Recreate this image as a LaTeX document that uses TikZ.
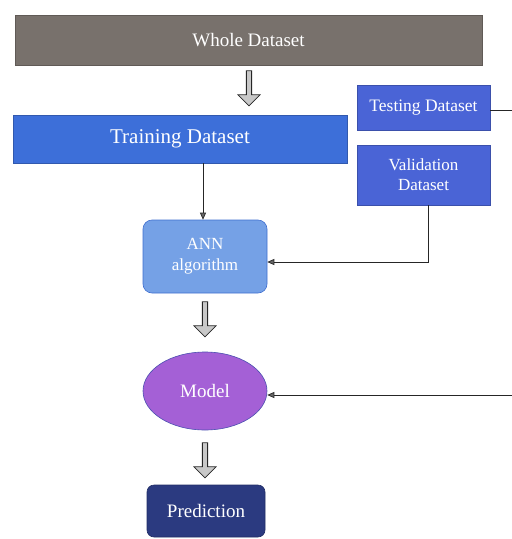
\documentclass[tikz,border=0pt]{standalone}
\usepackage{fontspec}
\setmainfont{Liberation Serif}
\usetikzlibrary{shapes.geometric,shapes.arrows,arrows.meta}
\definecolor{wholec}{HTML}{78716C}
\definecolor{trainc}{HTML}{3D6FD9}
\definecolor{testc}{HTML}{4A64D6}
\definecolor{annc}{HTML}{75A1E6}
\definecolor{annb}{HTML}{3F6ECF}
\definecolor{modelc}{HTML}{A460D6}
\definecolor{modelb}{HTML}{4B4FB0}
\definecolor{predc}{HTML}{2B3A80}
\definecolor{hollowc}{HTML}{C8C8C8}
\tikzset{
  box/.style={draw=#1!80!black, fill=#1, text=white, inner sep=2pt, align=center, line width=0.6pt},
  hollow/.style={single arrow, draw=black!85, fill=hollowc, line width=0.8pt, rotate=-90,
     minimum height=35pt, minimum width=22pt, single arrow head extend=6pt, single arrow tip angle=90, inner sep=1.5pt},
  conn/.style={draw=black!85, line width=0.7pt},
  tip/.style={-{Triangle[length=7pt,width=6pt,open,fill=black!60]}}
}
\begin{document}
\begin{tikzpicture}[x=1pt,y=-1pt]
\useasboundingbox (0,0) rectangle (512,539);
\node[box=wholec, minimum width=467pt, minimum height=50pt, font=\fontsize{19}{21}\selectfont] (whole) at (248.5,40) {Whole Dataset};
\node[box=trainc, minimum width=334pt, minimum height=48pt, font=\fontsize{21}{23}\selectfont] (train) at (180,139) {Training Dataset};
\node[box=testc, minimum width=133pt, minimum height=45pt, font=\fontsize{17.5}{19}\selectfont] (test) at (423.5,107.5) {Testing Dataset};
\node[box=testc, minimum width=133pt, minimum height=60pt, font=\fontsize{17}{20}\selectfont] (valid) at (423.5,175) {Validation\\Dataset};
\node[box=annc, draw=annb, rounded corners=9pt, minimum width=124pt, minimum height=73pt, font=\fontsize{17}{21}\selectfont] (ann) at (205,256.5) {ANN\\algorithm};
\node[box=modelc, draw=modelb, ellipse, minimum width=124pt, minimum height=78pt, font=\fontsize{19}{21}\selectfont] (model) at (205,391) {Model};
\node[box=predc, rounded corners=7pt, minimum width=118pt, minimum height=52pt, font=\fontsize{19}{21}\selectfont] (pred) at (206,511) {Prediction};
\node[hollow] (h1) at (249,87) {};
\node[hollow] (h2) at (205,318) {};
\node[hollow] (h3) at (205,459) {};
\coordinate (e1) at (512,110);
\coordinate (e2) at (512,395);
\coordinate (tj) at (203,0);
\coordinate (vj) at (428,0);
\draw[conn] (test.east |- e1) -- (e1);
\draw[conn,tip] (train.south -| tj) -- (ann.north -| tj);
\draw[conn,tip] (valid.south -| vj) -- (vj |- 0,262) -- (ann.east |- 0,262);
\draw[conn,tip] (e2) -- (model.east |- e2);
\end{tikzpicture}
\end{document}
